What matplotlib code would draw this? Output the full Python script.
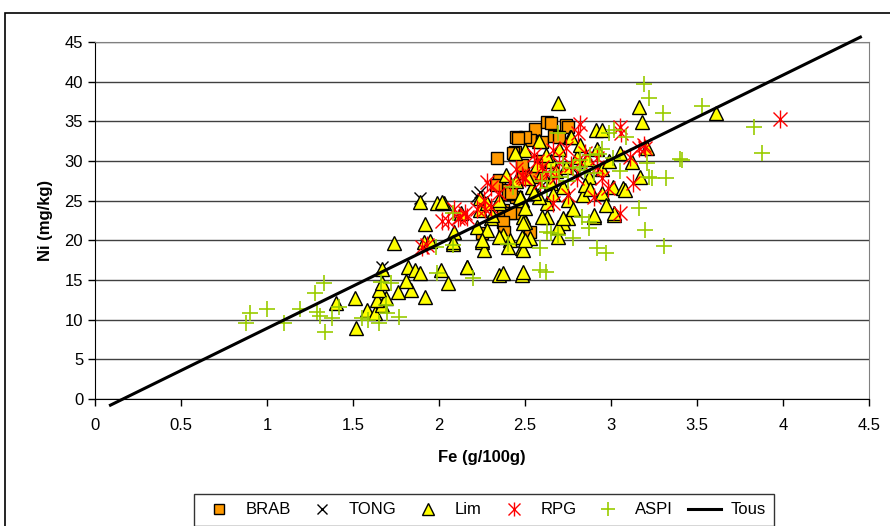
import matplotlib
matplotlib.use('Agg')
import matplotlib.pyplot as plt
from matplotlib.lines import Line2D
from matplotlib.patches import Rectangle
from matplotlib.legend_handler import HandlerTuple
from matplotlib.ticker import FuncFormatter, MultipleLocator

plt.rcParams['font.family'] = ['Liberation Sans', 'DejaVu Sans']

# BRAB (orange squares)
brab_fe = [2.34, 2.45, 2.56, 2.63, 2.53, 2.60, 2.44, 2.65, 2.74, 2.50, 2.67, 2.46, 2.75, 2.43,
           2.70, 2.35, 2.40, 2.45, 2.37, 2.53, 2.44, 2.49, 2.40, 2.41, 2.25, 2.37, 2.55, 2.60,
           2.48, 2.33, 2.42, 2.38]
brab_ni = [30.4, 33.0, 34.0, 34.9, 32.6, 32.4, 31.1, 34.8, 34.5, 33.0, 33.2, 32.9, 34.3, 31.0,
           33.0, 27.6, 26.3, 25.4, 23.8, 21.0, 23.4, 28.5, 25.9, 23.4, 20.9, 22.3, 28.0, 30.0,
           29.5, 27.0, 26.0, 21.0]

# TONG (black crosses)
tong_fe = [1.89, 1.67, 2.22, 2.24, 2.60, 2.80]
tong_ni = [25.3, 16.6, 25.6, 26.1, 27.0, 28.5]

# Lim (yellow triangles)
lim_fe = [1.40, 1.51, 1.52, 1.58, 1.63, 1.67, 1.64, 1.69, 1.65, 1.67, 1.76, 1.84, 1.81, 1.92,
          1.67, 1.82, 1.86, 1.89, 2.01, 2.05, 2.16, 1.74, 1.91, 1.95, 2.08, 1.92, 1.89, 1.99,
          2.03, 2.02, 2.09, 2.08, 2.13, 2.22, 2.24, 2.30, 2.28, 2.25, 2.26, 2.35, 2.37, 2.41,
          2.40, 2.48, 2.48, 2.48, 2.49, 2.16, 2.35, 2.48, 2.63, 2.75, 2.72, 2.50, 2.69, 2.53,
          2.49, 2.90, 2.49, 2.69, 3.16, 3.18, 2.91, 2.95, 2.76, 2.50, 2.44, 3.12, 3.17, 2.39,
          2.60, 2.87, 3.01, 3.07, 2.35, 2.47, 2.54, 2.65, 2.72, 2.84, 2.31, 2.50, 2.63, 2.75,
          2.90, 3.02, 2.49, 2.69, 2.50, 2.35, 2.72, 2.37, 2.24, 2.28, 2.25, 3.61, 3.21, 2.77,
          3.08, 3.02, 2.57, 2.80, 2.65, 2.92, 2.58, 2.85, 2.95, 2.70, 2.99, 2.45, 3.05, 2.60,
          2.95, 2.55, 2.68, 2.78, 2.88, 2.62, 2.82, 2.52, 2.97, 2.74, 2.66, 2.86, 2.58]
lim_ni = [12.1, 12.7, 8.9, 11.2, 10.8, 11.8, 12.5, 12.7, 13.7, 14.6, 13.5, 13.7, 14.9, 12.9,
          16.4, 16.6, 16.2, 15.9, 16.2, 14.6, 16.7, 19.7, 19.8, 19.9, 19.6, 22.0, 24.8, 24.7,
          24.7, 24.8, 21.0, 19.8, 23.4, 21.7, 25.3, 22.8, 21.3, 19.8, 18.8, 24.7, 20.7, 20.0,
          19.1, 19.0, 20.4, 25.1, 22.9, 16.6, 15.6, 15.6, 22.9, 22.8, 22.2, 22.3, 20.4, 20.3,
          18.8, 22.9, 16.0, 37.3, 36.8, 34.9, 33.9, 33.9, 33.0, 31.4, 31.0, 29.9, 28.0, 28.2,
          28.5, 28.0, 26.7, 26.6, 25.1, 25.4, 26.7, 27.2, 26.7, 25.7, 23.2, 24.1, 24.7, 25.1,
          23.2, 23.2, 22.2, 21.7, 20.0, 20.4, 22.8, 15.9, 23.8, 24.7, 20.0, 36.0, 31.7, 33.0,
          26.3, 23.4, 29.5, 30.5, 30.0, 31.5, 25.5, 27.0, 29.0, 31.5, 30.0, 27.5, 31.0, 23.0,
          26.0, 26.0, 28.8, 24.0, 26.5, 30.8, 32.0, 27.8, 24.5, 29.2, 25.8, 30.2, 32.5]

# RPG (red stars)
rpg_fe = [1.90, 1.93, 2.02, 2.09, 2.12, 2.15, 2.05, 2.11, 2.16, 2.22, 2.27, 2.30, 2.28, 2.48,
          2.50, 2.82, 2.81, 3.05, 3.06, 3.20, 2.55, 2.66, 2.74, 2.60, 2.70, 2.82, 2.92, 2.92,
          2.80, 2.49, 2.59, 2.26, 2.30, 2.66, 2.75, 2.90, 2.98, 3.13, 3.05, 2.41, 3.98, 3.19,
          3.16, 3.11, 2.35, 2.62, 2.45, 2.85, 2.57, 2.68, 2.77, 2.95]
rpg_ni = [19.2, 19.4, 22.5, 24.0, 23.0, 23.4, 22.5, 22.8, 22.9, 24.0, 24.0, 26.7, 27.3, 28.2,
          27.8, 34.7, 33.5, 34.3, 33.5, 31.7, 30.7, 31.4, 31.7, 29.2, 29.7, 29.9, 30.4, 29.2,
          27.8, 28.0, 27.3, 25.1, 24.2, 24.7, 25.7, 25.4, 26.6, 27.2, 23.4, 27.3, 35.3, 32.0,
          31.6, 30.5, 26.0, 28.5, 29.0, 31.0, 30.0, 28.0, 29.5, 27.8]

# ASPI (green plus)
aspi_fe = [0.90, 0.88, 1.00, 1.10, 1.19, 1.28, 1.33, 1.29, 1.31, 1.34, 1.38, 1.42, 1.66, 1.72,
           1.69, 1.77, 1.70, 1.65, 1.55, 1.59, 1.99, 1.98, 2.08, 2.08, 2.62, 2.59, 2.83, 2.87,
           2.78, 2.65, 2.59, 2.92, 2.97, 3.19, 3.22, 3.30, 3.53, 3.83, 3.88, 3.40, 3.32, 3.22,
           3.16, 3.20, 3.31, 3.21, 2.82, 2.82, 2.88, 2.99, 3.02, 3.09, 3.01, 3.05, 2.78, 2.70,
           2.65, 2.69, 2.63, 2.43, 2.87, 2.69, 2.63, 3.24, 3.41, 2.40, 2.20, 2.90, 2.95, 2.75,
           2.72, 2.85, 2.60, 2.93]
aspi_ni = [10.8, 9.6, 11.3, 9.6, 11.3, 13.3, 14.6, 11.0, 10.5, 8.4, 10.2, 11.6, 14.7, 14.6,
           11.8, 10.3, 10.8, 9.6, 10.2, 9.9, 15.9, 19.1, 19.4, 23.4, 16.0, 16.2, 22.9, 21.5,
           20.3, 20.9, 19.0, 19.0, 18.4, 39.7, 38.0, 36.0, 36.9, 34.3, 31.0, 30.2, 27.8, 28.0,
           24.1, 21.3, 19.3, 29.7, 30.1, 29.2, 30.7, 33.5, 33.9, 33.0, 30.4, 28.8, 29.1, 28.0,
           28.6, 33.5, 26.6, 26.7, 22.3, 20.7, 21.0, 27.8, 30.1, 19.6, 15.2, 28.5, 31.5, 27.5,
           29.8, 28.9, 27.5, 30.9]

# Tous: overall regression line
tous_fe = [0.09, 4.45]
tous_slope = 10.64
tous_icpt = -1.73
tous_ni = [tous_slope * x + tous_icpt for x in tous_fe]

fig = plt.figure(figsize=(8.9, 5.26), dpi=100)
ax = fig.add_axes([95 / 890, 1 - 399 / 526, 774 / 890, 357 / 526])

ax.plot(brab_fe, brab_ni, 's', color='#FF9900', mec='black', mew=1.0, ms=8.5, zorder=3)
ax.plot(tong_fe, tong_ni, 'x', color='black', mew=1.0, ms=9, zorder=3)
ax.plot(lim_fe, lim_ni, '^', color='#FFFF00', mec='black', mew=1.0, ms=10, zorder=4)
ax.plot(rpg_fe, rpg_ni, 'x', color='#FF0000', mew=1.0, ms=10, zorder=5)
ax.plot(rpg_fe, rpg_ni, '|', color='#FF0000', mew=1.0, ms=13, zorder=5)
ax.plot(aspi_fe, aspi_ni, '+', color='#99CC00', mew=1.2, ms=12, zorder=6)
ax.plot(tous_fe, tous_ni, '-', color='black', lw=2.2, zorder=7, clip_on=False)

ax.set_xlim(0, 4.5)
ax.set_ylim(0, 45)
ax.xaxis.set_major_locator(MultipleLocator(0.5))
ax.yaxis.set_major_locator(MultipleLocator(5))
ax.xaxis.set_major_formatter(FuncFormatter(lambda v, p: '%g' % v))
ax.tick_params(direction='out', length=5, width=1, labelsize=12, color='black')
ax.tick_params(axis='x', pad=9)
ax.yaxis.grid(True, color='#404040', lw=1.0)
ax.set_axisbelow(True)
for s in ['top', 'right']:
    ax.spines[s].set_color('#808080')
for s in ['left', 'bottom']:
    ax.spines[s].set_color('black')

ax.set_xlabel('Fe (g/100g)', fontsize=12, fontweight='bold', labelpad=12)
ax.set_ylabel('Ni (mg/kg)', fontsize=12, fontweight='bold', labelpad=8)

# outer chart frame
fig.patches.append(Rectangle((5 / 890, -0.1), 1.2, 1.1 - 13 / 526, transform=fig.transFigure,
                             fill=False, edgecolor='black', lw=1.2))

h_brab = Line2D([], [], ls='none', marker='s', color='#FF9900', mec='black', ms=7)
h_tong = Line2D([], [], ls='none', marker='x', color='black', ms=7)
h_lim = Line2D([], [], ls='none', marker='^', color='#FFFF00', mec='black', ms=8)
h_rpg1 = Line2D([], [], ls='none', marker='x', color='#FF0000', ms=8)
h_rpg2 = Line2D([], [], ls='none', marker='|', color='#FF0000', ms=10)
h_aspi = Line2D([], [], ls='none', marker='+', color='#99CC00', mew=1.2, ms=10)
h_tous = Line2D([], [], color='black', lw=2.2)

leg = fig.legend([h_brab, h_tong, h_lim, (h_rpg1, h_rpg2), h_aspi, h_tous],
                 ['BRAB', 'TONG', 'Lim', 'RPG', 'ASPI', 'Tous'],
                 handler_map={tuple: HandlerTuple(ndivide=1)},
                 loc='upper center', bbox_to_anchor=(484 / 890, 1 - 494 / 526),
                 borderaxespad=0, ncol=6, fontsize=12, frameon=True, fancybox=False,
                 edgecolor='black', handlelength=2.0, handletextpad=0.6,
                 columnspacing=0.9, borderpad=0.5)
leg.get_frame().set_linewidth(1.0)

fig.savefig('out.png', dpi=100)
